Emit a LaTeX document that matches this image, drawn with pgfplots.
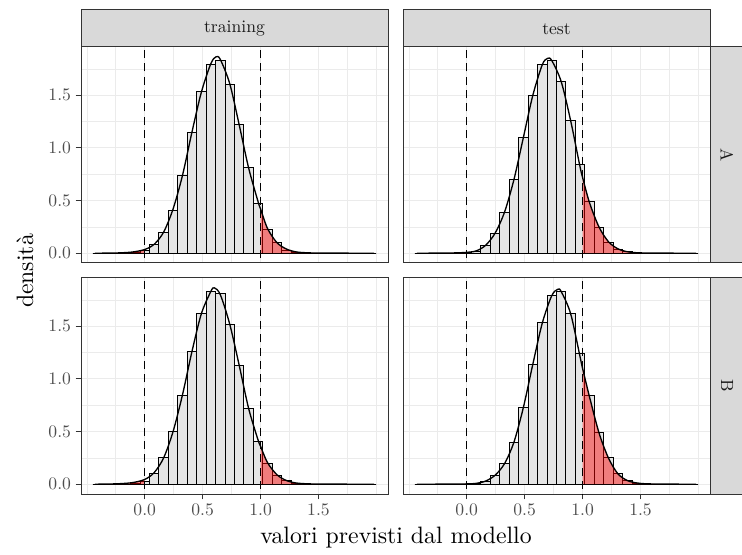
\documentclass[border=0pt]{standalone}
\usepackage{fontspec}
\newfontfamily\lmten{lmroman10-regular.otf}
\usepackage{pgfplots}
\pgfplotsset{compat=1.18}

\definecolor{grey10}{HTML}{1A1A1A}
\definecolor{grey20}{HTML}{333333}
\definecolor{grey30}{HTML}{4D4D4D}
\definecolor{grey85}{HTML}{D9D9D9}
\definecolor{grey92}{HTML}{EBEBEB}
\definecolor{barfill}{HTML}{E5E5E5}

% histogram heights (bin centres, width 0.0815)
\pgfplotstableread{
x       trA    trB    teA    teB
-0.4073 0      0      0      0
-0.3258 0      0      0      0
-0.2443 0      0      0      0
-0.1628 0      0      0      0
-0.0813 0.003  0.004  0      0
0.0003  0.03   0.03   0.005  0.002
0.0818  0.08   0.106  0.02   0.008
0.1633  0.20   0.25   0.077  0.03
0.2448  0.41   0.497  0.186  0.087
0.3263  0.737  0.843  0.39   0.196
0.4078  1.144  1.256  0.70   0.40
0.4893  1.538  1.625  1.10   0.73
0.5708  1.795  1.833  1.50   1.14
0.6523  1.833  1.808  1.79   1.535
0.7338  1.603  1.516  1.83   1.79
0.8153  1.218  1.128  1.63   1.83
0.8968  0.814  0.718  1.26   1.62
0.9783  0.471  0.404  0.843  1.24
1.0598  0.224  0.199  0.49   0.84
1.1413  0.10   0.087  0.247  0.487
1.2228  0.03   0.032  0.106  0.25
1.3043  0.01   0.01   0.04   0.10
1.3858  0.003  0.003  0.012  0.032
1.4673  0      0      0.003  0.01
1.5488  0      0      0      0.003
1.6303  0      0      0      0
1.7118  0      0      0      0
1.7933  0      0      0      0
1.8748  0      0      0      0
1.9563  0      0      0      0
}\hist

% density curves
\pgfplotstableread{
x      y
-0.43  0
-0.30  0.001
-0.20  0.004
-0.10  0.012
0.00   0.035
0.0818 0.085
0.1633 0.20
0.2448 0.42
0.3263 0.74
0.4078 1.15
0.4893 1.53
0.5708 1.80
0.616  1.865
0.6523 1.84
0.7338 1.61
0.8153 1.22
0.8968 0.81
0.9783 0.49
1.00   0.42
1.0598 0.235
1.1413 0.10
1.2228 0.04
1.3043 0.013
1.40   0.004
1.55   0.001
1.98   0
}\densTrA

\pgfplotstableread{
x      y
-0.43  0
-0.30  0.002
-0.20  0.006
-0.10  0.016
0.00   0.045
0.0818 0.11
0.1633 0.25
0.2448 0.50
0.3263 0.85
0.4078 1.26
0.4893 1.62
0.5708 1.83
0.60   1.865
0.6523 1.80
0.7338 1.52
0.8153 1.13
0.8968 0.72
0.9783 0.42
1.00   0.36
1.0598 0.205
1.1413 0.09
1.2228 0.035
1.3043 0.012
1.40   0.004
1.55   0.001
1.98   0
}\densTrB

\pgfplotstableread{
x      y
-0.43  0
-0.20  0.001
-0.10  0.003
0.00   0.008
0.0818 0.022
0.1633 0.075
0.2448 0.19
0.3263 0.39
0.4078 0.70
0.4893 1.10
0.5708 1.50
0.6523 1.79
0.698  1.85
0.7338 1.83
0.8153 1.63
0.8968 1.26
0.9783 0.82
1.00   0.72
1.0598 0.48
1.1413 0.25
1.2228 0.11
1.3043 0.042
1.3858 0.014
1.47   0.004
1.60   0.001
1.98   0
}\densTeA

\pgfplotstableread{
x      y
-0.43  0
-0.10  0.001
0.00   0.003
0.0818 0.008
0.1633 0.03
0.2448 0.085
0.3263 0.195
0.4078 0.40
0.4893 0.73
0.5708 1.14
0.6523 1.53
0.7338 1.79
0.785  1.85
0.8153 1.83
0.8968 1.62
0.9783 1.21
1.00   1.10
1.0598 0.83
1.1413 0.49
1.2228 0.25
1.3043 0.10
1.3858 0.035
1.4673 0.012
1.55   0.004
1.70   0.001
1.98   0
}\densTeB

\pgfplotsset{
  panel/.style={
    scale only axis, width=230.25pt, height=162pt,
    anchor=north west,
    xmin=-0.55, xmax=2.10, ymin=-0.093, ymax=1.958,
    axis line style={draw=grey20, line width=0.75pt},
    xtick={0,0.5,1,1.5}, ytick={0,0.5,1,1.5},
    minor xtick={-0.5,-0.25,0.25,0.75,1.25,1.75,2},
    minor ytick={0.25,0.75,1.25,1.75},
    grid=both,
    major grid style={draw=grey92, line width=0.8pt},
    minor grid style={draw=grey92, line width=0.4pt},
    minor tick length=0pt,
    tick align=outside, major tick length=4pt,
    tick style={draw=grey20, line width=0.75pt},
    xtick pos=bottom, ytick pos=left,
    tick label style={font=\lmten\fontsize{13.2}{15}\selectfont, text=grey30},
    xticklabel style={/pgf/number format/.cd, fixed, fixed zerofill, precision=1, assume math mode=true},
    yticklabel style={/pgf/number format/.cd, fixed, fixed zerofill, precision=1, assume math mode=true},
  },
  nox/.style={xticklabels={}, major x tick style={draw=none}},
  noy/.style={yticklabels={}, major y tick style={draw=none}},
}

\newcommand{\panelplots}[2]{%
  \addplot[ybar, bar width=0.0815, bar shift=0pt, fill=barfill, draw=black, line width=0.7pt] table[x=x, y=#1] {\hist};
  \addplot[fill=red, fill opacity=0.45, draw=none, smooth, restrict x to domain=-1:0] table {#2} \closedcycle;
  \addplot[fill=red, fill opacity=0.45, draw=none, smooth, restrict x to domain=1:3] table {#2} \closedcycle;
  \addplot[black, line width=1pt, smooth] table {#2};
  \addplot[black, dash pattern=on 6pt off 4pt, line width=0.85pt] coordinates {(0,-0.3) (0,2.3)};
  \addplot[black, dash pattern=on 6pt off 4pt, line width=0.85pt] coordinates {(1,-0.3) (1,2.3)};
}

\begin{document}
\begin{tikzpicture}[x=0.75pt,y=0.75pt]
\useasboundingbox (0,0) rectangle (742,554);

\begin{axis}[panel, nox, at={(60.75pt,380.25pt)}]
\panelplots{trA}{\densTrA}
\end{axis}

\begin{axis}[panel, nox, noy, at={(302.25pt,380.25pt)}]
\panelplots{teA}{\densTeA}
\end{axis}

\begin{axis}[panel, at={(60.75pt,207pt)}]
\panelplots{trB}{\densTrB}
\end{axis}

\begin{axis}[panel, noy, at={(302.25pt,207pt)}]
\panelplots{teB}{\densTeB}
\end{axis}

% strips
\begin{scope}[every node/.style={font=\lmten\fontsize{13.2}{15}\selectfont, text=grey10}]
\draw[fill=grey85, draw=grey20, line width=0.75pt] (81,544) rectangle (388,507);
\node at (234.5,525) {training};
\draw[fill=grey85, draw=grey20, line width=0.75pt] (403,544) rectangle (710,507);
\node at (556.5,525) {test};
\draw[fill=grey85, draw=grey20, line width=0.75pt] (710,507) rectangle (746,291);
\node[rotate=-90] at (727,399) {A};
\draw[fill=grey85, draw=grey20, line width=0.75pt] (710,276) rectangle (746,60);
\node[rotate=-90] at (727,168) {B};
\end{scope}

% axis titles
\node[font=\lmten\fontsize{17.8}{21}\selectfont, rotate=90] at (25,283) {densità};
\node[font=\lmten\fontsize{17.8}{21}\selectfont] at (396,16) {valori previsti dal modello};
\end{tikzpicture}
\end{document}
